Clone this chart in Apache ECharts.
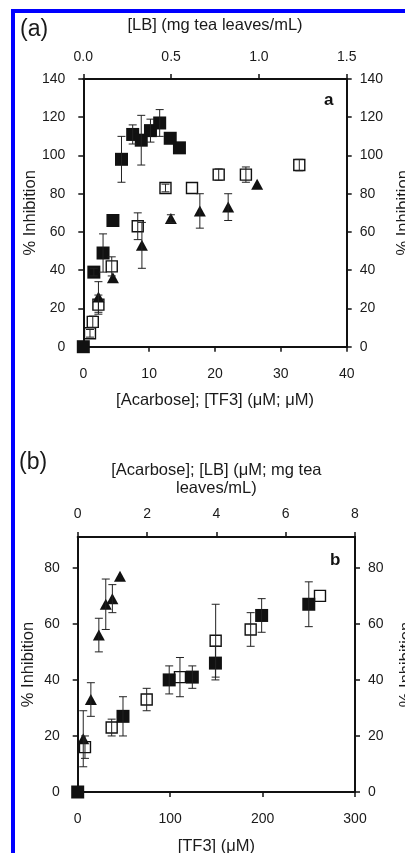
<!DOCTYPE html>
<html>
<head>
<meta charset="utf-8">
<script src="https://cdn.jsdelivr.net/npm/echarts@6/dist/echarts.min.js"></script>
<style>
html,body{margin:0;padding:0;background:#fff;}
#chart{position:absolute;left:0;top:0;width:405px;height:853px;}
#frame{position:absolute;left:11px;top:9px;width:400px;height:860px;border-top:4px solid #0000ff;border-left:4px solid #0000ff;pointer-events:none;}
</style>
</head>
<body>
<div id="chart"></div>
<div id="frame"></div>
<script>
// ---- Panel (a) data ----
const aFilledX = [0, 1.6, 3.0, 4.5, 5.8, 7.5, 8.8, 10.2, 11.6, 13.2, 14.6];   // [Acarbose] (µM), bottom axis
const aFilledY = [0, 39, 49, 66, 98, 111, 108, 113, 117, 109, 104];
const aFilledE = [0, 2, 10, 0, 12, 5, 13, 6, 7, 0, 0];

const aTriX = [2.3, 4.5, 8.9, 13.3, 17.7, 22.0, 26.4];                        // [TF3] (µM), bottom axis
const aTriY = [26, 36, 53, 67, 71, 73, 85];
const aTriE = [8, 0, 12, 2, 9, 7, 0];

const aOpenX = [0.038, 0.054, 0.086, 0.162, 0.31, 0.468, 0.619, 0.771, 0.926, 1.23]; // [LB] (mg/mL), top axis
const aOpenY = [7, 13, 22, 42, 63, 83, 83, 90, 90, 95];
const aOpenE = [2, 3, 5, 5, 7, 2, 0, 3, 4, 3];

// ---- Panel (b) data ----
const bTriX = [0.16, 0.38, 0.61, 0.81, 1.0, 1.22];                           // [Acarbose] (µM), top axis
const bTriY = [19, 33, 56, 67, 69, 77];
const bTriE = [10, 6, 6, 9, 5, 0];

const bOpenX = [0.21, 0.98, 1.99, 2.95, 3.98, 4.99, 6.99];                    // [LB] (mg/mL), top axis
const bOpenY = [16, 23, 33, 41, 54, 58, 70];
const bOpenE = [4, 3, 4, 7, 13, 6, 0];

const bFilledX = [0, 49, 99, 124, 149, 199, 250];                            // [TF3] (µM), bottom axis
const bFilledY = [0, 27, 40, 41, 46, 63, 67];
const bFilledE = [0, 7, 5, 4, 6, 6, 8];

// ---- Axis texts ----
const aTopName = '[LB] (mg tea leaves/mL)';
const aBottomName = '[Acarbose]; [TF3] (μM; μM)';
const bTopName = '[Acarbose]; [LB] (μM; mg tea\nleaves/mL)';
const bBottomName = '[TF3] (μM)';
const yName = '% Inhibition';

const FONT = "'Liberation Sans', Arial, sans-serif";
const TXT = '#1a1a1a';

function pts(xs, ys){ return xs.map((x,i)=>[x, ys[i]]); }
function errs(xs, ys, es){ return xs.map((x,i)=>[x, ys[i], es[i]]); }

function errSeries(data, xi, yi){
  return {
    type:'custom', xAxisIndex:xi, yAxisIndex:yi, silent:true, z:5, clip:false,
    data:data,
    renderItem:function(params, api){
      const x=api.value(0), y=api.value(1), e=api.value(2);
      if(!e) return null;
      const t=api.coord([x,y+e]), b=api.coord([x,y-e]);
      const hw=4, st={stroke:'#222', lineWidth:1};
      return {type:'group', children:[
        {type:'line', shape:{x1:t[0],y1:t[1],x2:b[0],y2:b[1]}, style:st},
        {type:'line', shape:{x1:t[0]-hw,y1:t[1],x2:t[0]+hw,y2:t[1]}, style:st},
        {type:'line', shape:{x1:b[0]-hw,y1:b[1],x2:b[0]+hw,y2:b[1]}, style:st}
      ]};
    }
  };
}
function filled(data, xi, yi){
  return {type:'scatter', xAxisIndex:xi, yAxisIndex:yi, silent:true, clip:false, z:3,
    symbol:'rect', symbolSize:13, itemStyle:{color:'#111', opacity:1}, data:data};
}
function openSq(data, xi, yi){
  return {type:'scatter', xAxisIndex:xi, yAxisIndex:yi, silent:true, clip:false, z:4,
    symbol:'rect', symbolSize:11, itemStyle:{color:'rgba(0,0,0,0)', borderColor:'#111', borderWidth:1.4, opacity:1}, data:data};
}
function tri(data, xi, yi){
  return {type:'scatter', xAxisIndex:xi, yAxisIndex:yi, silent:true, clip:false, z:3,
    symbol:'triangle', symbolSize:[12,11], itemStyle:{color:'#111', opacity:1}, data:data};
}

const axLine = {show:true, onZero:false, lineStyle:{color:'#111', width:2}};
const axTick = {show:true, inside:false, length:5, lineStyle:{color:'#111', width:1.5}};
const lbl = (m)=>({color:TXT, fontFamily:FONT, fontSize:14, margin:m});
const nm = {color:TXT, fontFamily:FONT, fontSize:16.5};

function xAx(grid, pos, min, max, interval, name, gap, margin, fmt){
  return {type:'value', gridIndex:grid, position:pos, min:min, max:max, interval:interval,
    name:name, nameLocation:'middle', nameGap:gap, nameMoveOverlap:false,
    nameTextStyle:Object.assign({lineHeight:18}, nm),
    axisLine:axLine, axisTick:axTick, splitLine:{show:false},
    axisLabel:Object.assign(lbl(margin), fmt?{formatter:fmt}:{})};
}
function yAx(grid, pos, max, gap){
  return {type:'value', gridIndex:grid, position:pos, min:0, max:max, interval:20,
    name:yName, nameLocation:'middle', nameGap:gap, nameMoveOverlap:false,
    nameTextStyle:nm,
    axisLine:axLine, axisTick:axTick, splitLine:{show:false},
    axisLabel:Object.assign(lbl(pos==='left'?18:13), {showMaxLabel: max===140})};
}

const chart = echarts.init(document.getElementById('chart'), null, {renderer:'canvas'});
chart.setOption({
  animation:false,
  backgroundColor:'#fff',
  grid:[
    {left:83.3, top:79, width:263.4, height:267.7, outerBoundsMode:'none', containLabel:false},
    {left:77.7, top:537, width:277.3, height:255, outerBoundsMode:'none', containLabel:false}
  ],
  xAxis:[
    xAx(0,'bottom',0,40,10,aBottomName,45,20),
    xAx(0,'top',0,1.5,0.5,aTopName,45,15,(v)=>v.toFixed(1)),
    xAx(1,'bottom',0,300,100,bBottomName,45,20),
    xAx(1,'top',0,8,2,bTopName,40,16)
  ],
  yAxis:[
    yAx(0,'left',140,44), yAx(0,'right',140,48),
    yAx(1,'left',91,41), yAx(1,'right',91,43)
  ],
  graphic:[
    {type:'text', left:20, top:18, style:{text:'(a)', font:'23px '+FONT, fill:TXT}},
    {type:'text', left:19, top:451, style:{text:'(b)', font:'23px '+FONT, fill:TXT}},
    {type:'text', left:324, top:92, style:{text:'a', font:'bold 17px Liberation Sans, Arial', fill:'#111'}},
    {type:'text', left:330, top:552, style:{text:'b', font:'bold 17px Liberation Sans, Arial', fill:'#111'}}
  ],
  series:[
    errSeries(errs(aOpenX,aOpenY,aOpenE),1,0),
    openSq(pts(aOpenX,aOpenY),1,0),
    errSeries(errs(aTriX,aTriY,aTriE),0,0),
    tri(pts(aTriX,aTriY),0,0),
    errSeries(errs(aFilledX,aFilledY,aFilledE),0,0),
    filled(pts(aFilledX,aFilledY),0,0),

    errSeries(errs(bOpenX,bOpenY,bOpenE),3,2),
    openSq(pts(bOpenX,bOpenY),3,2),
    errSeries(errs(bTriX,bTriY,bTriE),3,2),
    tri(pts(bTriX,bTriY),3,2),
    errSeries(errs(bFilledX,bFilledY,bFilledE),2,2),
    filled(pts(bFilledX,bFilledY),2,2)
  ]
});
</script>
</body>
</html>
